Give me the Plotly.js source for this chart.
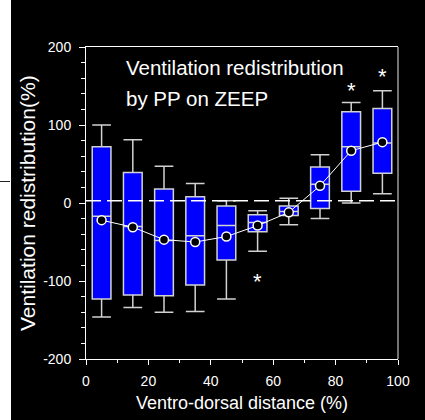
<!DOCTYPE html>
<html>
<head>
<meta charset="utf-8">
<script src="https://cdn.plot.ly/plotly-3.0.1.min.js"></script>
<style>
  html, body { margin: 0; padding: 0; background: #ffffff; }
  #wrap { position: relative; width: 425px; height: 420px; overflow: hidden; }
  #edge { position: absolute; left: 0; top: 181px; width: 10px; height: 0; border-top: 1.5px solid #222; }
  #chart { position: absolute; left: 11px; top: 0; width: 414px; height: 420px; }
</style>
</head>
<body>
<div id="wrap">
  <div id="edge"></div>
  <div id="chart"></div>
</div>
<script>
// Ventral-to-dorsal lung slices (centre of each 10% band)
const position = [5, 15, 25, 35, 45, 55, 65, 75, 85, 95];

// Box statistics of ventilation redistribution (%) per slice
const upperWhisker = [100, 81, 47, 25, 3, -10, 6, 62, 129, 144];
const upperQuartile = [72, 39, 18, 8, -4, -15, -4, 46, 117, 121];
const medianValue = [-17, -30, -48, -42, -29, -25, -11, 24, 72, 77];
const lowerQuartile = [-123, -118, -119, -105, -73, -37, -16, -7, 15, 38];
const lowerWhisker = [-146, -134, -140, -139, -123, -62, -28, -20, 0, 12];
const meanValue = [-22, -31, -47, -50, -43, -29, -12, 22, 67, 78];

// Slices marked as significant
const starX = [55, 85, 95];
const starY = [-96, 150, 167];

// Reference level
const baseline = [3];

// Axis tick labels
const yTickVals = [-200, -100, 0, 100, 200];
const yTickText = ['-200', '-100', '0', '100', '200'];

const FONT = 'Arial, "Liberation Sans", Helvetica, sans-serif';
const W = 414, H = 420;
const M = { l: 75, r: 27, t: 47, b: 61 };
const plotW = W - M.l - M.r;

const boxes = {
  type: 'box',
  x: position,
  q1: lowerQuartile,
  median: medianValue,
  q3: upperQuartile,
  lowerfence: lowerWhisker,
  upperfence: upperWhisker,
  width: 6,
  whiskerwidth: 1,
  boxpoints: false,
  fillcolor: '#0000ff',
  line: { color: '#d2d2d2', width: 1.5 },
  hoverinfo: 'skip',
  showlegend: false
};

const means = {
  type: 'scatter',
  mode: 'lines+markers',
  x: position,
  y: meanValue,
  line: { color: '#ffffff', width: 1 },
  marker: { size: 9, color: '#000000', line: { color: '#ffffff', width: 1.5 } },
  hoverinfo: 'skip',
  showlegend: false
};

const annotations = [
  { x: 12.3, y: 173.5, xref: 'x', yref: 'y', xanchor: 'left', yanchor: 'middle',
    text: 'Ventilation redistribution', showarrow: false,
    font: { family: FONT, size: 20.5, color: '#ffffff' } },
  { x: 12.3, y: 133.7, xref: 'x', yref: 'y', xanchor: 'left', yanchor: 'middle',
    text: 'by PP on ZEEP', showarrow: false,
    font: { family: FONT, size: 20.5, color: '#ffffff' } },
  // y-axis title, placed directly so it sits close to the white margin
  { x: (16 - M.l) / plotW, y: 0.5, xref: 'paper', yref: 'paper', xanchor: 'center', yanchor: 'middle',
    textangle: -90, text: 'Ventilation redistribution(%)', showarrow: false,
    font: { family: FONT, size: 21, color: '#ffffff' } }
].concat(starX.map((sx, i) => ({
  x: sx, y: starY[i], xref: 'x', yref: 'y', text: '*', showarrow: false,
  yshift: -4, font: { family: FONT, size: 22, color: '#ffffff' }
})));

const shapes = [
  // dashed reference line
  { type: 'line', xref: 'paper', yref: 'y', x0: 0, x1: 1, y0: baseline[0], y1: baseline[0],
    line: { color: '#ffffff', width: 1.5, dash: '15px,6px' }, layer: 'above' },
  // right frame edge
  { type: 'line', xref: 'paper', yref: 'paper', x0: 1, x1: 1, y0: 0, y1: 1,
    line: { color: '#9a9a9a', width: 1.5 } }
];

const layout = {
  width: W, height: H,
  margin: M,
  paper_bgcolor: '#000000',
  plot_bgcolor: '#000000',
  font: { family: FONT, color: '#ffffff', size: 14 },
  showlegend: false,
  hovermode: false,
  xaxis: {
    range: [0, 100], dtick: 20, tick0: 0,
    showgrid: false, zeroline: false,
    showline: true, linecolor: '#ffffff', linewidth: 1, mirror: true,
    ticks: 'outside', ticklen: 5, tickwidth: 1, tickcolor: '#ffffff',
    minor: { dtick: 10, ticks: 'outside', ticklen: 3, tickwidth: 1, tickcolor: '#ffffff', showgrid: false },
    tickfont: { family: FONT, size: 14, color: '#ffffff' },
    ticklabelstandoff: 4,
    title: { text: 'Ventro-dorsal distance (%)', font: { family: FONT, size: 18, color: '#ffffff' }, standoff: 8 }
  },
  yaxis: {
    range: [-200, 200], tickmode: 'array', tickvals: yTickVals, ticktext: yTickText,
    showgrid: false, zeroline: false,
    showline: true, linecolor: '#ffffff', linewidth: 1, mirror: false,
    ticks: 'outside', ticklen: 6, tickwidth: 1, tickcolor: '#ffffff',
    minor: { tickmode: 'linear', tick0: 0, dtick: 20, ticks: 'outside', ticklen: 4, tickwidth: 1, tickcolor: '#ffffff', showgrid: false },
    tickfont: { family: FONT, size: 14, color: '#ffffff' },
    ticklabelstandoff: 5
  },
  annotations: annotations,
  shapes: shapes
};

Plotly.newPlot('chart', [boxes, means], layout, { staticPlot: true, displayModeBar: false });
</script>
</body>
</html>
